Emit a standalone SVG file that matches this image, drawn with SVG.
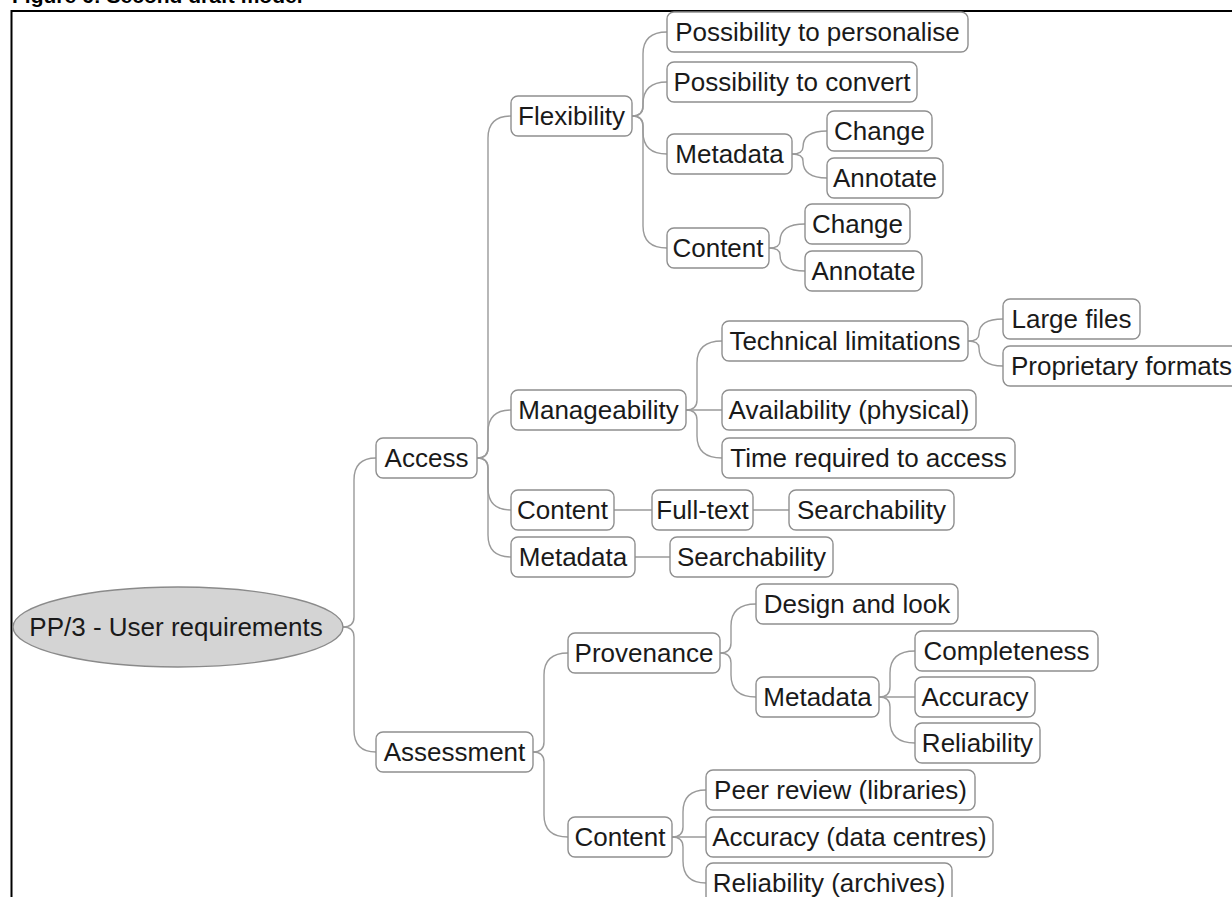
<svg xmlns="http://www.w3.org/2000/svg" width="1232" height="897" viewBox="0 0 1232 897">
  <style>
    .node rect { fill: #ffffff; stroke: #8f8f8f; stroke-width: 1.4; }
    .node text, .root text { font-family: "Liberation Sans", Arial, sans-serif; font-size: 26px; fill: #1a1a1a; text-anchor: middle; }
    .root ellipse { fill: #d4d4d4; stroke: #8a8a8a; stroke-width: 1.4; }
    .connectors path { fill: none; stroke: #9a9a9a; stroke-width: 1.4; }
    .title { font-family: "Liberation Sans", Arial, sans-serif; font-size: 21px; font-weight: bold; fill: #000000; }
  </style>

  <!-- caption and frame -->
  <text class="title" x="12" y="3">Figure 6: Second draft model</text>
  <path d="M11.5,897 L11.5,11 L1232,11" fill="none" stroke="#000000" stroke-width="2"/>

  <!-- branch lines -->
  <g id="connectors" class="connectors">
    <path d="M343,627 Q354,627 354,617 L354,480 Q354,458 376,458"/>
    <path d="M343,627 Q354,627 354,637 L354,730 Q354,752 376,752"/>

    <path d="M477,458 Q488,458 488,448 L488,138 Q488,116 511,116"/>
    <path d="M477,458 Q488,458 488,448 L488,432 Q488,410 511,410"/>
    <path d="M477,458 Q488,458 488,468 L488,488 Q488,510 511,510"/>
    <path d="M477,458 Q488,458 488,468 L488,535 Q488,557 511,557"/>

    <path d="M632,116 Q643,116 643,106 L643,54 Q643,32 667,32"/>
    <path d="M632,116 Q643,116 643,106 L643,104 Q643,82 667,82"/>
    <path d="M632,116 Q643,116 643,126 L643,132 Q643,154 667,154"/>
    <path d="M632,116 Q643,116 643,126 L643,226 Q643,248 667,248"/>

    <path d="M792,154 Q803,154 803,147 Q803,131 827,131"/>
    <path d="M792,154 Q803,154 803,161 Q803,178 827,178"/>

    <path d="M769,248 Q780,248 780,241 Q780,224 805,224"/>
    <path d="M769,248 Q780,248 780,255 Q780,271 805,271"/>

    <path d="M686,410 Q697,410 697,400 L697,363 Q697,341 722,341"/>
    <path d="M686,410 L722,410"/>
    <path d="M686,410 Q697,410 697,420 L697,436 Q697,458 722,458"/>

    <path d="M968,341 Q979,341 979,334 Q979,319 1003,319"/>
    <path d="M968,341 Q979,341 979,348 Q979,366 1003,366"/>

    <path d="M614,510 L652,510"/>
    <path d="M753,510 L789,510"/>
    <path d="M635,557 L670,557"/>

    <path d="M533,752 Q544,752 544,742 L544,675 Q544,653 568,653"/>
    <path d="M533,752 Q544,752 544,762 L544,815 Q544,837 568,837"/>

    <path d="M720,653 Q731,653 731,643 L731,626 Q731,604 756,604"/>
    <path d="M720,653 Q731,653 731,663 L731,675 Q731,697 756,697"/>

    <path d="M879,697 Q890,697 890,687 L890,673 Q890,651 915,651"/>
    <path d="M879,697 L915,697"/>
    <path d="M879,697 Q890,697 890,707 L890,721 Q890,743 915,743"/>

    <path d="M672,837 Q683,837 683,827 L683,812 Q683,790 706,790"/>
    <path d="M672,837 L706,837"/>
    <path d="M672,837 Q683,837 683,847 L683,861 Q683,883 706,883"/>
  </g>

  <!-- central topic -->
  <g id="root" class="root">
    <ellipse cx="178" cy="627" rx="165" ry="40"/>
    <text x="176" y="636">PP/3 - User requirements</text>
  </g>

  <!-- main branches -->
  <g id="access" class="node"><rect x="376" y="438" width="101" height="40" rx="7"/><text x="426.5" y="467">Access</text></g>
  <g id="assessment" class="node"><rect x="376" y="732" width="157" height="40" rx="7"/><text x="454.5" y="761">Assessment</text></g>

  <!-- Access subtree -->
  <g id="flexibility" class="node"><rect x="511" y="96" width="121" height="40" rx="7"/><text x="571.5" y="125">Flexibility</text></g>
  <g id="manageability" class="node"><rect x="511" y="390" width="175" height="40" rx="7"/><text x="598.5" y="419">Manageability</text></g>
  <g id="access-content" class="node"><rect x="511" y="490" width="103" height="40" rx="7"/><text x="562.5" y="519">Content</text></g>
  <g id="access-metadata" class="node"><rect x="511" y="537" width="124" height="40" rx="7"/><text x="573" y="566">Metadata</text></g>

  <g id="personalise" class="node"><rect x="667" y="12" width="301" height="40" rx="7"/><text x="817.5" y="41">Possibility to personalise</text></g>
  <g id="convert" class="node"><rect x="667" y="62" width="250" height="40" rx="7"/><text x="792" y="91">Possibility to convert</text></g>
  <g id="flex-metadata" class="node"><rect x="667" y="134" width="125" height="40" rx="7"/><text x="729.5" y="163">Metadata</text></g>
  <g id="flex-content" class="node"><rect x="667" y="228" width="102" height="40" rx="7"/><text x="718" y="257">Content</text></g>

  <g id="meta-change" class="node"><rect x="827" y="111" width="105" height="40" rx="7"/><text x="879.5" y="140">Change</text></g>
  <g id="meta-annotate" class="node"><rect x="827" y="158" width="116" height="40" rx="7"/><text x="885" y="187">Annotate</text></g>
  <g id="content-change" class="node"><rect x="805" y="204" width="105" height="40" rx="7"/><text x="857.5" y="233">Change</text></g>
  <g id="content-annotate" class="node"><rect x="805" y="251" width="117" height="40" rx="7"/><text x="863.5" y="280">Annotate</text></g>

  <g id="technical" class="node"><rect x="722" y="321" width="246" height="40" rx="7"/><text x="845" y="350">Technical limitations</text></g>
  <g id="availability" class="node"><rect x="722" y="390" width="254" height="40" rx="7"/><text x="849" y="419">Availability (physical)</text></g>
  <g id="time" class="node"><rect x="722" y="438" width="293" height="40" rx="7"/><text x="868.5" y="467">Time required to access</text></g>
  <g id="large-files" class="node"><rect x="1003" y="299" width="137" height="40" rx="7"/><text x="1071.5" y="328">Large files</text></g>
  <g id="proprietary" class="node"><rect x="1003" y="346" width="237" height="40" rx="7"/><text x="1121.5" y="375">Proprietary formats</text></g>

  <g id="fulltext" class="node"><rect x="652" y="490" width="101" height="40" rx="7"/><text x="702.5" y="519">Full-text</text></g>
  <g id="fulltext-search" class="node"><rect x="789" y="490" width="165" height="40" rx="7"/><text x="871.5" y="519" textLength="149" lengthAdjust="spacingAndGlyphs">Searchability</text></g>
  <g id="metadata-search" class="node"><rect x="670" y="537" width="163" height="40" rx="7"/><text x="751.5" y="566" textLength="149" lengthAdjust="spacingAndGlyphs">Searchability</text></g>

  <!-- Assessment subtree -->
  <g id="provenance" class="node"><rect x="568" y="633" width="152" height="40" rx="7"/><text x="644" y="662">Provenance</text></g>
  <g id="assess-content" class="node"><rect x="568" y="817" width="104" height="40" rx="7"/><text x="620" y="846">Content</text></g>

  <g id="design" class="node"><rect x="756" y="584" width="202" height="40" rx="7"/><text x="857" y="613">Design and look</text></g>
  <g id="prov-metadata" class="node"><rect x="756" y="677" width="123" height="40" rx="7"/><text x="817.5" y="706">Metadata</text></g>
  <g id="completeness" class="node"><rect x="915" y="631" width="183" height="40" rx="7"/><text x="1006.5" y="660">Completeness</text></g>
  <g id="accuracy" class="node"><rect x="915" y="677" width="120" height="40" rx="7"/><text x="975" y="706">Accuracy</text></g>
  <g id="reliability" class="node"><rect x="915" y="723" width="125" height="40" rx="7"/><text x="977.5" y="752">Reliability</text></g>

  <g id="peer-review" class="node"><rect x="706" y="770" width="269" height="40" rx="7"/><text x="840.5" y="799">Peer review (libraries)</text></g>
  <g id="accuracy-dc" class="node"><rect x="706" y="817" width="287" height="40" rx="7"/><text x="849.5" y="846">Accuracy (data centres)</text></g>
  <g id="reliability-archives" class="node"><rect x="706" y="863" width="246" height="40" rx="7"/><text x="829" y="892">Reliability (archives)</text></g>
</svg>
